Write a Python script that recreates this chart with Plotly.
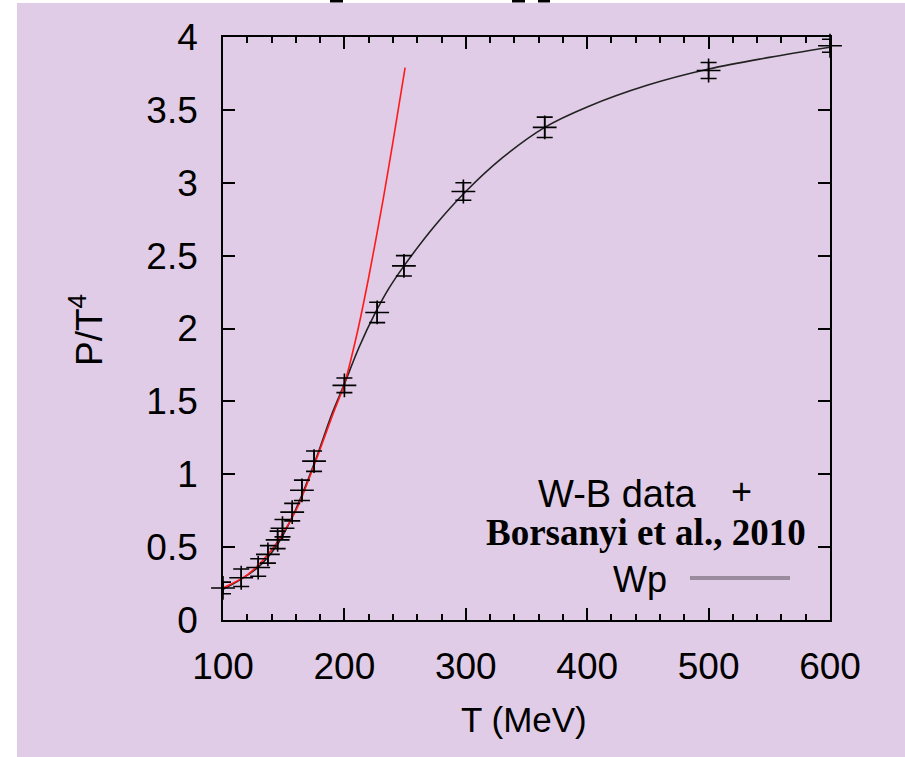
import plotly.graph_objects as go

# ---- data ----
T_data = [100, 115, 129, 137, 145, 149, 157, 165, 175, 200, 227, 249, 298, 365, 500, 600]
P_data = [0.22, 0.29, 0.36, 0.45, 0.55, 0.63, 0.74, 0.89, 1.09, 1.61, 2.11, 2.43, 2.94, 3.38, 3.77, 3.94]
P_err = [0.04, 0.06, 0.06, 0.06, 0.06, 0.06, 0.06, 0.07, 0.07, 0.05, 0.07, 0.07, 0.06, 0.07, 0.055, 0.045]

T_wp = [100, 115, 130, 145, 160, 175, 190, 200, 212, 225, 237, 250, 275, 300, 330, 365, 400, 450, 500, 550, 600]
P_wp = [0.21, 0.28, 0.37, 0.52, 0.76, 1.07, 1.42, 1.62, 1.87, 2.10, 2.28, 2.44, 2.71, 2.94, 3.17, 3.38, 3.52, 3.67, 3.78, 3.86, 3.93]

T_hrg = [100, 120, 140, 160, 175, 190, 200, 210, 220, 232, 240, 250]
P_hrg = [0.22, 0.31, 0.48, 0.75, 1.06, 1.40, 1.62, 1.95, 2.35, 2.89, 3.28, 3.79]

x_ticks = [100, 200, 300, 400, 500, 600]
y_ticks = [0, 0.5, 1, 1.5, 2, 2.5, 3, 3.5, 4]
y_tick_text = ["0", "0.5", "1", "1.5", "2", "2.5", "3", "3.5", "4"]

LAV = "#e0cce6"
FONT = "Liberation Sans, Arial, sans-serif"

# pixel geometry
W, H = 905, 757
L, R, T, B = 223, 75, 37, 137
PW, PH = W - L - R, H - T - B


def px(xp):
    return (xp - L) / PW


def py(yp):
    return (H - B - yp) / PH


fig = go.Figure()

fig.add_trace(go.Scatter(
    x=T_wp, y=P_wp, mode="lines", line=dict(color="#222222", width=1.6, shape="spline", smoothing=1.0),
    showlegend=False, cliponaxis=False))
fig.add_trace(go.Scatter(
    x=T_hrg, y=P_hrg, mode="lines", line=dict(color="#ff1a1a", width=1.6, shape="spline", smoothing=0.8),
    showlegend=False, cliponaxis=False))
fig.add_trace(go.Scatter(
    x=T_data, y=P_data, mode="markers",
    marker=dict(symbol="cross-thin", size=17, color="black", line=dict(color="black", width=1.6)),
    error_y=dict(type="data", array=P_err, visible=True, color="black", thickness=1.6, width=8),
    showlegend=False, cliponaxis=False))

shapes = [
    dict(type="rect", xref="paper", yref="paper", x0=px(17), x1=px(W + 5), y0=py(3), y1=py(H + 5),
         fillcolor=LAV, line=dict(width=0), layer="below"),
    # legend line sample
    dict(type="line", xref="paper", yref="paper", x0=px(690), x1=px(790), y0=py(578), y1=py(578),
         line=dict(color="#9a8c9e", width=4)),
]
for a, b in [(330, 343), (512, 525), (538, 550)]:
    shapes.append(dict(type="rect", xref="paper", yref="paper", x0=px(a), x1=px(b), y0=py(0), y1=py(2.5),
                       fillcolor="black", line=dict(width=0)))

annotations = [
    dict(text="W-B data", x=px(699), y=py(494), xref="paper", yref="paper", xanchor="right", yanchor="middle",
         showarrow=False, font=dict(family=FONT, size=38, color="black")),
    dict(text="+", x=px(741), y=py(492), xref="paper", yref="paper", xanchor="center", yanchor="middle",
         showarrow=False, font=dict(family=FONT, size=36, color="black")),
    dict(text="<b>Borsanyi et al., 2010</b>", x=px(646), y=py(532), xref="paper", yref="paper",
         xanchor="center", yanchor="middle", showarrow=False,
         font=dict(family="Liberation Serif", size=37, color="black")),
    dict(text="Wp", x=px(669), y=py(579), xref="paper", yref="paper", xanchor="right", yanchor="middle",
         showarrow=False, font=dict(family=FONT, size=36, color="black")),
    dict(text="T (MeV)", x=px(524), y=py(720), xref="paper", yref="paper", xanchor="center", yanchor="middle",
         showarrow=False, font=dict(family=FONT, size=35, color="black")),
    dict(text="P/T<sup>4</sup>", x=px(86), y=py(330), xref="paper", yref="paper", xanchor="center",
         yanchor="middle", textangle=-90, showarrow=False, font=dict(family=FONT, size=37, color="black")),
]

axis_common = dict(showgrid=False, zeroline=False, showline=True, linecolor="black", linewidth=1.6,
                   mirror="allticks", ticks="inside", ticklen=12, tickwidth=1.6, tickcolor="black",
                   tickfont=dict(family=FONT, size=37, color="black"))

fig.update_layout(
    width=W, height=H, margin=dict(l=L, r=R, t=T, b=B, pad=0),
    paper_bgcolor="white", plot_bgcolor=LAV,
    xaxis=dict(range=[100, 600], tickvals=x_ticks, ticklabelstandoff=13,
               minor=dict(dtick=20, tick0=100, ticks="inside", ticklen=6, tickwidth=1.6, tickcolor="black"),
               **axis_common),
    yaxis=dict(range=[0, 4], tickvals=y_ticks, ticktext=y_tick_text, ticklabelstandoff=16, **axis_common),
    shapes=shapes, annotations=annotations, showlegend=False,
)

fig.write_html("out.html")
